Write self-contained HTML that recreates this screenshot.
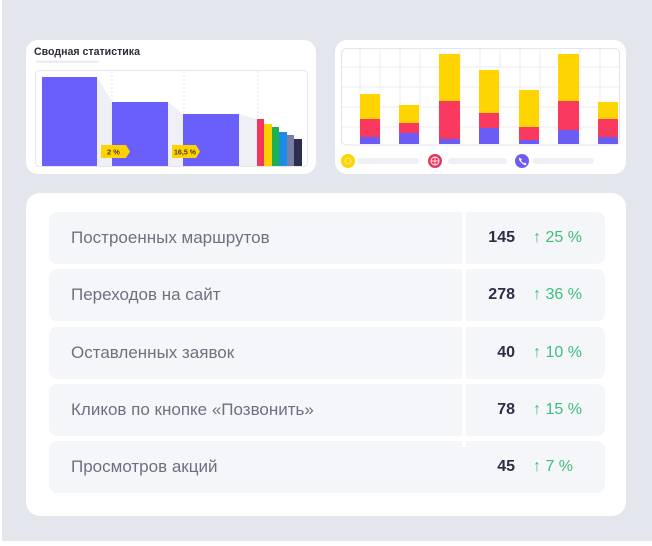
<!DOCTYPE html>
<html><head><meta charset="utf-8">
<style>
html,body{margin:0;padding:0;}
body{width:652px;height:546px;position:relative;overflow:hidden;background:#fff;font-family:"Liberation Sans","Noto Sans CJK SC",sans-serif;}
.bg{position:absolute;left:2px;top:0;width:650px;height:541px;background:#e3e6ed;}
.card{position:absolute;left:26px;top:193px;width:600px;height:323px;background:#fff;border-radius:14px;}
.row{position:absolute;left:49px;width:556px;height:52px;background:#f5f6f9;border-radius:8px;}
.lbl{position:absolute;left:22px;top:0;line-height:52px;font-size:17px;color:#6e7080;white-space:nowrap;}
.val{position:absolute;right:90px;top:0;line-height:52px;font-size:16px;font-weight:bold;color:#2c2e45;}
.pct{position:absolute;left:484px;top:0;line-height:52px;font-size:16px;color:#3dbd7d;white-space:nowrap;}
.sep{position:absolute;left:462px;top:212px;width:4px;height:235px;background:#fff;}
svg{position:absolute;left:0;top:0;}
</style></head>
<body>
<div class="bg"></div>
<svg width="652" height="190" viewBox="0 0 652 190">
  <!-- left card -->
  <rect x="26" y="40" width="290" height="134" rx="12" fill="#fff"/>
  <text x="34" y="55" font-family="Liberation Sans, sans-serif" font-size="11" font-weight="bold" fill="#2b2d3a" textLength="106" lengthAdjust="spacingAndGlyphs">Сводная статистика</text>
  <rect x="36" y="60.5" width="63" height="2.5" rx="1.25" fill="#eceef3"/>
  <rect x="35.5" y="70.5" width="272" height="96" rx="4" fill="#fff" stroke="#e4e6ec"/>
  <polygon points="97,77 112,102 112,166 97,166" fill="#eef0f5"/>
  <polygon points="168,102 183,114 183,166 168,166" fill="#eef0f5"/>
  <polygon points="239,114 257,119 257,166 239,166" fill="#eef0f5"/>
  <g stroke="#e3e5eb" stroke-width="1" stroke-dasharray="2 2">
    <line x1="112" y1="71" x2="112" y2="166"/>
    <line x1="184" y1="71" x2="184" y2="166"/>
    <line x1="258" y1="71" x2="258" y2="166"/>
  </g>
  <rect x="42" y="77" width="55" height="89" fill="#6b5ffb"/>
  <rect x="112" y="102" width="56" height="64" fill="#6b5ffb"/>
  <rect x="183" y="114" width="56" height="52" fill="#6b5ffb"/>
  <rect x="257" y="119" width="7" height="47" fill="#f7345e"/>
  <rect x="264" y="124" width="8" height="42" fill="#ffd000"/>
  <rect x="272" y="127" width="7" height="39" fill="#1fb04f"/>
  <rect x="279" y="132" width="8" height="34" fill="#1a8ee6"/>
  <rect x="287" y="135" width="7" height="31" fill="#7b7fa8"/>
  <rect x="294" y="139" width="8" height="27" fill="#2b2f4f"/>
  <polygon points="101,145 126,145 130,151.5 126,158 101,158" fill="#ffd200"/>
  <text x="107" y="154.5" font-family="Liberation Sans, sans-serif" font-size="7.5" font-weight="bold" fill="#4a4020">2 %</text>
  <polygon points="172,145 196,145 200,151.5 196,158 172,158" fill="#ffd200"/>
  <text x="174" y="154.5" font-family="Liberation Sans, sans-serif" font-size="7.5" font-weight="bold" fill="#4a4020" textLength="22" lengthAdjust="spacingAndGlyphs">16,5 %</text>

  <!-- right card -->
  <rect x="335" y="40" width="291" height="134" rx="12" fill="#fff"/>
  <rect x="341.5" y="48.5" width="278" height="96.5" rx="5" fill="#fff" stroke="#e3e5ea"/>
  <g stroke="#eceef2" stroke-width="1">
    <line x1="360" y1="49" x2="360" y2="144"/><line x1="380" y1="49" x2="380" y2="144"/>
    <line x1="400" y1="49" x2="400" y2="144"/><line x1="420" y1="49" x2="420" y2="144"/>
    <line x1="440" y1="49" x2="440" y2="144"/><line x1="460" y1="49" x2="460" y2="144"/>
    <line x1="480" y1="49" x2="480" y2="144"/><line x1="500" y1="49" x2="500" y2="144"/>
    <line x1="520" y1="49" x2="520" y2="144"/><line x1="540" y1="49" x2="540" y2="144"/>
    <line x1="560" y1="49" x2="560" y2="144"/><line x1="580" y1="49" x2="580" y2="144"/>
    <line x1="600" y1="49" x2="600" y2="144"/>
    <line x1="342" y1="67" x2="619" y2="67"/><line x1="342" y1="87" x2="619" y2="87"/>
    <line x1="342" y1="107" x2="619" y2="107"/><line x1="342" y1="127" x2="619" y2="127"/>
  </g>
  <!-- stacked bars -->
  <g>
    <rect x="360" y="94" width="20" height="25" fill="#ffd400"/><rect x="360" y="119" width="20" height="18" fill="#f93a5e"/><rect x="360" y="137" width="20" height="7" fill="#6c5cf6"/>
    <rect x="399" y="105" width="20" height="18" fill="#ffd400"/><rect x="399" y="123" width="20" height="10" fill="#f93a5e"/><rect x="399" y="133" width="20" height="11" fill="#6c5cf6"/>
    <rect x="439" y="54" width="21" height="47" fill="#ffd400"/><rect x="439" y="101" width="21" height="38" fill="#f93a5e"/><rect x="439" y="139" width="21" height="5" fill="#6c5cf6"/>
    <rect x="479" y="70" width="20" height="43" fill="#ffd400"/><rect x="479" y="113" width="20" height="15" fill="#f93a5e"/><rect x="479" y="128" width="20" height="16" fill="#6c5cf6"/>
    <rect x="519" y="90" width="20" height="37" fill="#ffd400"/><rect x="519" y="127" width="20" height="13" fill="#f93a5e"/><rect x="519" y="140" width="20" height="4" fill="#6c5cf6"/>
    <rect x="558" y="54" width="21" height="47" fill="#ffd400"/><rect x="558" y="101" width="21" height="29" fill="#f93a5e"/><rect x="558" y="130" width="21" height="14" fill="#6c5cf6"/>
    <rect x="598" y="102" width="20" height="17" fill="#ffd400"/><rect x="598" y="119" width="20" height="18" fill="#f93a5e"/><rect x="598" y="137" width="20" height="7" fill="#6c5cf6"/>
  </g>
  <!-- legend -->
  <circle cx="348" cy="161" r="7" fill="#ffd400"/>
  <circle cx="348" cy="161" r="3" fill="none" stroke="#ffe97a" stroke-width="1.2"/>
  <rect x="357" y="158" width="62" height="6" rx="3" fill="#eef0f4"/>
  <circle cx="435" cy="161" r="7" fill="#e8365a"/>
  <circle cx="435" cy="161" r="4" fill="none" stroke="#fff" stroke-width="0.9"/>
  <line x1="431" y1="161" x2="439" y2="161" stroke="#fff" stroke-width="0.8"/>
  <line x1="435" y1="157" x2="435" y2="165" stroke="#fff" stroke-width="0.8"/>
  <rect x="448" y="158" width="59" height="6" rx="3" fill="#eef0f4"/>
  <circle cx="522" cy="161" r="7" fill="#6c5cf6"/>
  <path d="M519.5,157.5 q-1,1 0,3 q2,3 5,4.5 q1.5,0.5 2,-1 l-1.5,-1.5 l-1.2,0.8 q-1.8,-1 -2.8,-2.8 l0.8,-1.2 z" fill="#fff"/>
  <rect x="533" y="158" width="61" height="6" rx="3" fill="#eef0f4"/>
</svg>

<div class="card"></div>
<div class="row" style="top:212px;"><span class="lbl">Построенных маршрутов</span><span class="val">145</span><span class="pct">↑ 25 %</span></div>
<div class="row" style="top:269px;"><span class="lbl">Переходов на сайт</span><span class="val">278</span><span class="pct">↑ 36 %</span></div>
<div class="row" style="top:327px;"><span class="lbl">Оставленных заявок</span><span class="val">40</span><span class="pct">↑ 10 %</span></div>
<div class="row" style="top:384px;"><span class="lbl">Кликов по кнопке «Позвонить»</span><span class="val">78</span><span class="pct">↑ 15 %</span></div>
<div class="row" style="top:441px;"><span class="lbl">Просмотров акций</span><span class="val">45</span><span class="pct">↑ 7 %</span></div>
<div class="sep"></div>
</body></html>
